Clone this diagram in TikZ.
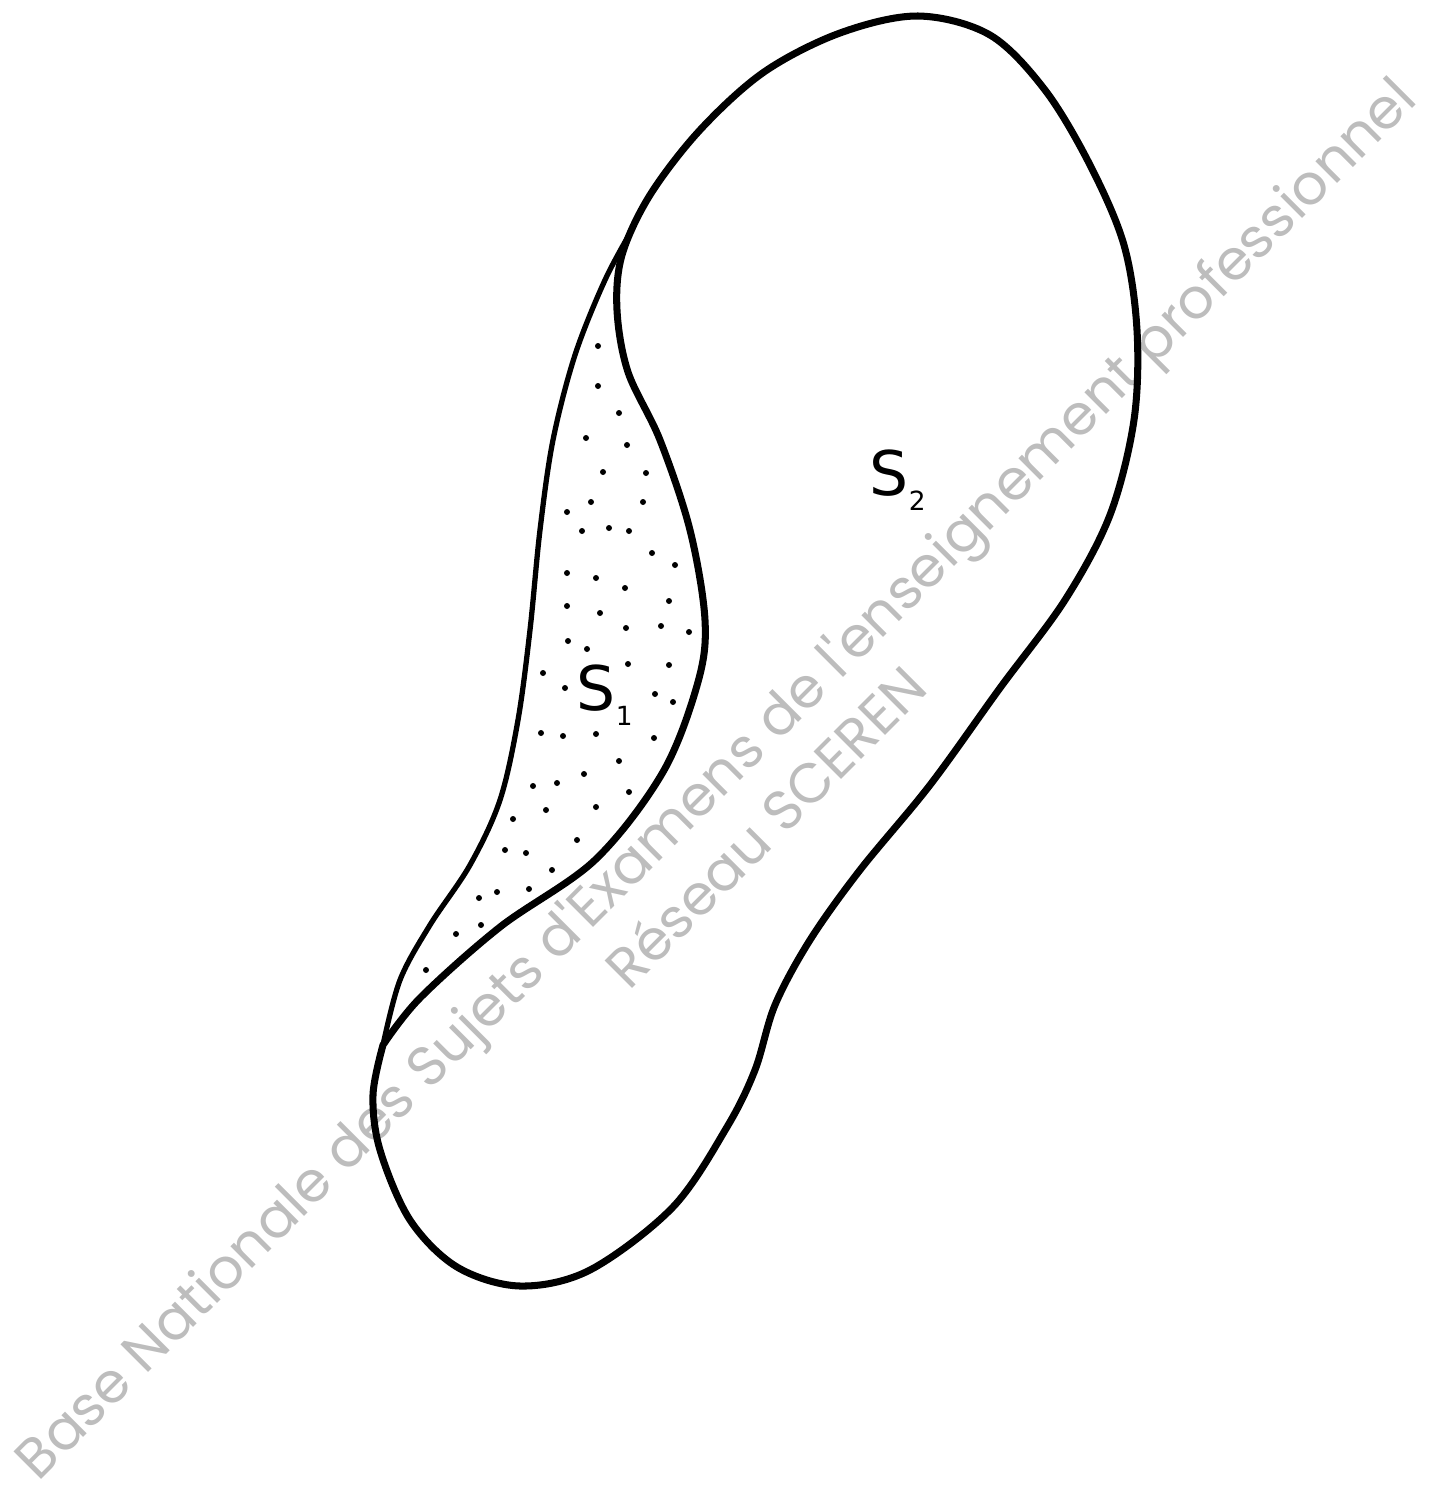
\documentclass[tikz,border=0pt]{standalone}
\usepackage{fontspec}
\usepackage{graphicx}
\newfontfamily\lblfont{DejaVu Sans}
\newfontfamily\wmfont{Poppins}
\newcommand{\surf}[1]{S\raisebox{-4.3pt}{\fontsize{7.5pt}{8pt}\selectfont #1}}

\begin{document}
\begin{tikzpicture}[x=0.01cm, y=-0.01cm]
        \tikzstyle{outline} = [line width=2pt, line join=round, line cap=round]
        \tikzstyle{border} = [line width=1.5pt, line cap=round]
        \tikzstyle{stipple} = [fill=black]
        \tikzstyle{watermark} = [rotate=45, anchor=base, inner sep=0pt, text=black!26, font=\wmfont]
        \tikzstyle{surflabel} = [anchor=base west, inner sep=0pt, font=\lblfont\fontsize{17.5pt}{20pt}\selectfont]

\useasboundingbox (0,0) rectangle (1436,1487);

\node[watermark] (wmone) at (729,792) {\resizebox{555pt}{!}{Base Nationale des Sujets d\textquotesingle Examens de l\textquotesingle enseignement professionnel}};
        \node[watermark] (wmtwo) at (780,841) {\resizebox{121.2pt}{!}{Réseau SCEREN}};

% surface S2 (whole outline)
        \draw[outline] plot[smooth, tension=0.55] coordinates {
            (383,1045) (420,998) (500,927) (595,860) (663,772) (698,682) (705,620)
            (690,530) (660,440) (628,372) (617,310) (622,255) (650,195) (700,130)
            (764,72) (840,33) (918,16) (990,35) (1045,90) (1090,165) (1124,245)
            (1137,330) (1134,420) (1110,515) (1065,600) (1000,688) (930,785)
            (860,870) (810,940) (775,1005) (755,1070) (727,1127) (673,1207)
            (590,1270) (520,1286) (457,1267) (410,1220) (380,1150) (373,1095)
            (383,1045)} -- cycle;

% left border of S1
        \draw[border] plot[smooth, tension=0.55] coordinates {
            (633,228) (605,280) (575,355) (553,440) (540,530) (530,630) (518,720)
            (500,800) (470,865) (430,925) (400,980) (383,1045)};

% stippling of S1
        \foreach \p in {(598,346),(598,386),(619,413),(586,438),(627,445),(603,472),
            (646,473),(567,512),(591,502),(643,502),(582,531),(609,528),(629,531),
            (652,553),(675,565),(567,573),(596,578),(625,588),(669,601),(567,606),
            (600,613),(626,628),(661,626),(689,632),(568,641),(587,649),(628,664),
            (669,665),(543,673),(565,688),(655,694),(673,702),(541,733),(563,736),
            (596,734),(654,738),(619,761),(584,774),(533,786),(557,783),(629,792),
            (546,810),(596,807),(513,819),(577,840),(505,850),(526,853),(552,870),
            (479,898),(497,892),(529,889),(481,925),(456,934),(426,970)}
            \fill[stipple] \p circle[radius=3];

\node[surflabel] (sone) at (576,710) {\surf{1}};
        \node[surflabel] (stwo) at (869,495) {\surf{2}};

\end{tikzpicture}
\end{document}
